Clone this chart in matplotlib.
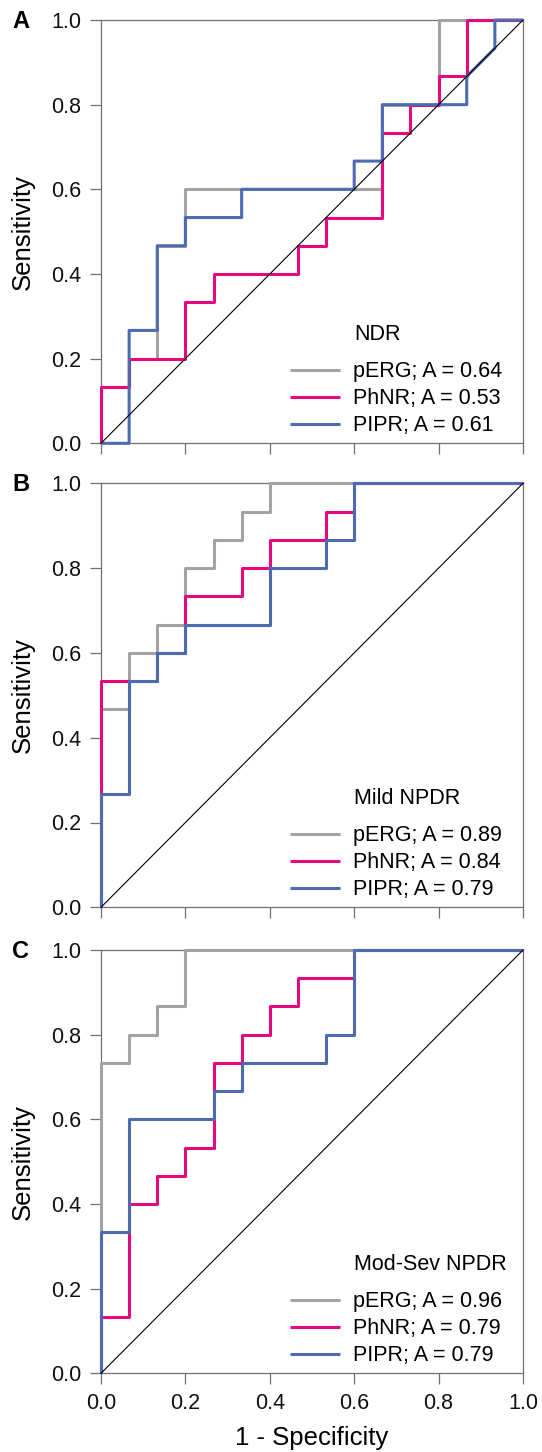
import numpy as np
import matplotlib
matplotlib.use("Agg")
import matplotlib.pyplot as plt

plt.rcParams['font.family'] = ['Liberation Sans', 'DejaVu Sans']

# ROC curves, 15 controls / 15 patients per group: vertices as counts
N_CTRL = 15
N_CASE = 15

groups = ["NDR", "Mild NPDR", "Mod-Sev NPDR"]
panel_letters = ["A", "B", "C"]
tests = ["pERG", "PhNR", "PIPR"]
auc = [[0.64, 0.53, 0.61],
       [0.89, 0.84, 0.79],
       [0.96, 0.79, 0.79]]

# NDR
ndr_perg_fp = [0, 0, 1, 1, 2, 2, 3, 3, 10, 10, 12, 12, 15]
ndr_perg_tp = [0, 2, 2, 3, 3, 7, 7, 9, 9, 12, 12, 15, 15]
ndr_phnr_fp = [0, 0, 1, 1, 3, 3, 4, 4, 7, 7, 8, 8, 10, 10, 11, 11, 12, 12, 13, 13, 15]
ndr_phnr_tp = [0, 2, 2, 3, 3, 5, 5, 6, 6, 7, 7, 8, 8, 11, 11, 12, 12, 13, 13, 15, 15]
ndr_pipr_fp = [0, 1, 1, 2, 2, 3, 3, 5, 5, 9, 9, 10, 10, 13, 13, 14, 14, 15]
ndr_pipr_tp = [0, 0, 4, 4, 7, 7, 8, 8, 9, 9, 10, 10, 12, 12, 13, 14, 15, 15]

# Mild NPDR
mild_perg_fp = [0, 0, 1, 1, 2, 2, 3, 3, 4, 4, 5, 5, 6, 6, 15]
mild_perg_tp = [0, 7, 7, 9, 9, 10, 10, 12, 12, 13, 13, 14, 14, 15, 15]
mild_phnr_fp = [0, 0, 2, 2, 3, 3, 5, 5, 6, 6, 8, 8, 9, 9, 15]
mild_phnr_tp = [0, 8, 8, 9, 9, 11, 11, 12, 12, 13, 13, 14, 14, 15, 15]
mild_pipr_fp = [0, 0, 1, 1, 2, 2, 3, 3, 6, 6, 8, 8, 9, 9, 15]
mild_pipr_tp = [0, 4, 4, 8, 8, 9, 9, 10, 10, 12, 12, 13, 13, 15, 15]

# Mod-Sev NPDR
modsev_perg_fp = [0, 0, 1, 1, 2, 2, 3, 3, 15]
modsev_perg_tp = [0, 11, 11, 12, 12, 13, 13, 15, 15]
modsev_phnr_fp = [0, 0, 1, 1, 2, 2, 3, 3, 4, 4, 5, 5, 6, 6, 7, 7, 9, 9, 15]
modsev_phnr_tp = [0, 2, 2, 6, 6, 7, 7, 8, 8, 11, 11, 12, 12, 13, 13, 14, 14, 15, 15]
modsev_pipr_fp = [0, 0, 1, 1, 4, 4, 5, 5, 8, 8, 9, 9, 15]
modsev_pipr_tp = [0, 5, 5, 9, 9, 10, 10, 11, 11, 12, 12, 15, 15]

curves = [
    [(ndr_perg_fp, ndr_perg_tp), (ndr_phnr_fp, ndr_phnr_tp), (ndr_pipr_fp, ndr_pipr_tp)],
    [(mild_perg_fp, mild_perg_tp), (mild_phnr_fp, mild_phnr_tp), (mild_pipr_fp, mild_pipr_tp)],
    [(modsev_perg_fp, modsev_perg_tp), (modsev_phnr_fp, modsev_phnr_tp), (modsev_pipr_fp, modsev_pipr_tp)],
]

colors = ["#a3a3a3", "#e5097f", "#4d6bb3"]
SPINE = "#707070"

W, H = 542, 1452
fig = plt.figure(figsize=(W / 100, H / 100), dpi=100)

# axes frames in pixels: (left, top, right, bottom)
frames = [(101, 20, 523, 443.3), (101, 483.3, 523, 907.3), (101, 950, 523, 1373.3)]

for i, (l, t, r, b) in enumerate(frames):
    ax = fig.add_axes([l / W, 1 - b / H, (r - l) / W, (b - t) / H])
    handles = []
    for k, (fp, tp) in enumerate(curves[i]):
        x = np.array(fp) / N_CTRL
        y = np.array(tp) / N_CASE
        h, = ax.plot(x, y, color=colors[k], lw=2.2, zorder=3 + k * 0.1,
                     clip_on=False, solid_capstyle="butt",
                     label=f"{tests[k]}; A = {auc[i][k]:.2f}")
        handles.append(h)
    ax.plot([0, 1], [0, 1], color="black", lw=0.8, zorder=4, clip_on=False)

    ax.set_xlim(0, 1)
    ax.set_ylim(0, 1)
    ax.set_xticks(np.arange(0, 1.01, 0.2))
    ax.set_yticks(np.arange(0, 1.01, 0.2))
    ax.yaxis.set_major_formatter(matplotlib.ticker.FormatStrFormatter("%.1f"))
    ax.xaxis.set_major_formatter(matplotlib.ticker.FormatStrFormatter("%.1f"))
    ax.tick_params(direction="out", length=8, width=0.9, color=SPINE,
                   labelsize=15.5, pad=6, labelcolor="#111111")
    if i < 2:
        ax.tick_params(axis="x", labelbottom=False)
    else:
        ax.set_xlabel("1 - Specificity", fontsize=18.5, labelpad=9)
    ax.set_ylabel("Sensitivity", fontsize=18.5, labelpad=12)
    for s in ax.spines.values():
        s.set_color(SPINE)
        s.set_linewidth(0.9)

    ax.text(0.60, 0.257, groups[i], transform=ax.transAxes,
            fontsize=15.5, ha="left", va="center")
    ax.legend(handles=handles, loc="lower left", bbox_to_anchor=(0.437, 0.006),
              frameon=False, fontsize=15.5, handlelength=2.35,
              handletextpad=0.6, labelspacing=0.28, borderpad=0.2,
              borderaxespad=0)

    fig.text(12 / W, 1 - (t + 1) / H, panel_letters[i], fontsize=17,
             fontweight="bold", ha="left", va="center")

fig.savefig("out.png", dpi=100)
